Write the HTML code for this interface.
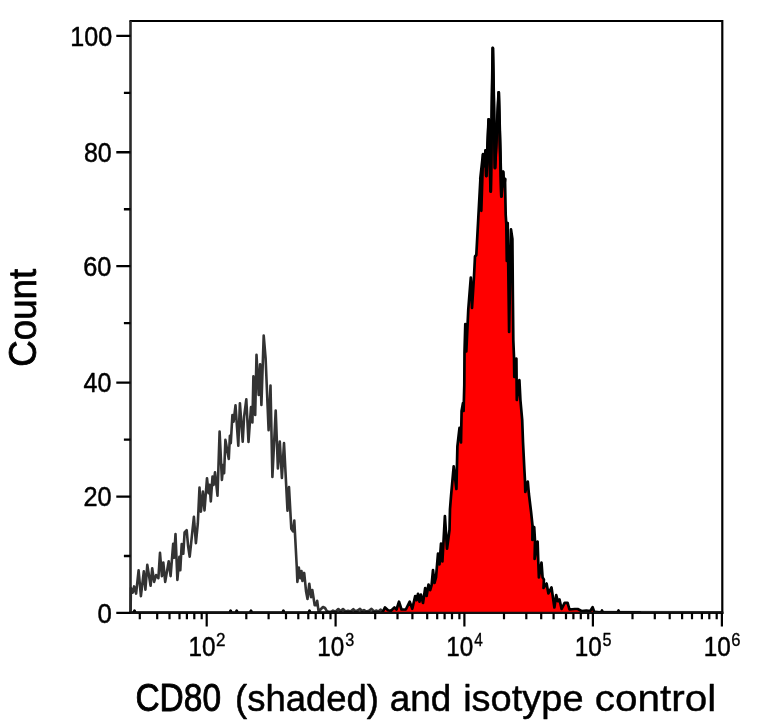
<!DOCTYPE html>
<html><head><meta charset="utf-8"><title>CD80 (shaded) and isotype control</title>
<style>
html,body{margin:0;padding:0;background:#fff;}
svg{display:block;will-change:transform}
text{font-family:"Liberation Sans",sans-serif;fill:#000}
</style></head><body>
<svg width="768" height="721" viewBox="0 0 768 721">
<rect width="768" height="721" fill="#fff"/>
<polyline points="130.6,612.0 130.9,588.0 132.8,592.6 134.1,586.4 136.1,593.6 138.6,570.3 140.9,596.1 143.8,571.3 145.4,589.7 147.3,564.9 150.6,585.8 152.2,568.3 154.1,581.9 156.1,575.1 158.4,578.1 160.0,552.8 161.9,576.1 163.3,562.5 165.2,581.9 168.7,561.2 170.6,576.1 173.2,543.7 174.1,557.7 175.5,534.0 177.4,580.0 179.4,556.7 180.3,570.3 181.7,544.1 183.3,553.8 184.6,532.4 186.7,530.1 188.1,546.0 189.7,556.7 193.9,516.9 195.9,543.1 197.8,523.7 199.5,487.6 200.9,511.7 202.9,491.6 204.5,510.4 207.0,478.2 208.6,493.2 209.6,484.9 210.8,501.5 212.5,476.5 213.6,484.9 215.0,472.4 217.5,495.7 219.6,431.6 221.9,479.9 223.3,464.9 224.1,473.2 225.4,439.9 228.8,459.0 229.9,435.8 230.8,443.3 232.4,415.0 233.6,421.6 235.5,405.4 238.3,445.6 239.9,403.2 242.7,441.6 244.1,416.6 246.3,399.3 248.5,442.0 251.0,407.0 252.4,422.5 253.4,376.3 255.2,415.0 256.5,354.8 258.7,395.0 260.1,364.4 261.4,405.0 263.7,335.5 265.6,358.0 268.6,430.2 270.5,385.6 272.4,477.0 275.7,410.6 277.9,468.5 279.8,441.5 281.9,478.0 284.0,443.0 287.5,510.7 289.0,487.0 291.3,528.7 293.0,531.4 294.3,520.6 296.7,565.7 297.4,581.9 298.8,567.5 300.3,578.3 301.5,571.0 302.4,581.0 304.2,572.9 306.0,590.9 307.5,599.0 309.3,583.7 311.0,597.2 312.3,590.0 314.7,605.3 316.0,605.3 317.2,600.8 318.6,611.6 321.0,609.0 323.0,607.0 325.0,608.0 326.5,610.5 328.5,611.8 331.0,611.8 333.0,610.6 335.5,611.6 338.3,609.0 340.5,611.2 343.0,609.0 345.5,611.4 348.0,610.8 350.5,611.6 353.3,609.2 355.5,611.3 357.5,610.6 360.0,608.9 362.0,611.2 364.0,610.0 366.5,611.5 369.0,610.8 371.5,608.8 374.0,611.4 376.5,610.6 378.5,611.4 380.5,609.6 383.0,611.5 386.0,610.5 389.0,611.6 392.0,610.2 395.0,611.5 400.0,610.8 405.0,611.4 410.0,610.6 415.0,612.0 722.0,612.3" fill="none" stroke="#333" stroke-width="2.6" stroke-linejoin="round" stroke-linecap="round"/>
<polygon points="131.0,612.5 133.6,612.5 134.5,610.6 135.4,612.5 229.7,612.5 230.6,610.6 231.5,612.5 235.8,612.5 236.7,610.6 237.6,612.5 250.1,612.5 251.0,610.6 251.9,612.5 282.5,612.5 283.4,610.6 284.3,612.5 308.6,612.5 309.5,610.6 310.4,612.5 382.5,612.5 385.0,607.4 388.0,610.3 390.8,611.0 394.4,607.4 396.5,609.5 399.0,601.7 401.5,609.5 405.8,609.5 409.7,601.7 412.3,608.8 415.2,596.0 416.6,600.2 418.0,593.8 419.5,601.7 420.9,594.5 423.0,603.0 425.2,588.0 426.6,596.0 428.5,584.5 430.2,590.2 431.6,585.2 433.0,570.0 434.5,583.0 436.0,577.3 438.0,553.7 439.5,564.4 441.0,543.6 442.4,561.5 444.9,516.0 447.0,548.7 449.5,530.0 450.0,509.0 451.0,496.4 453.7,466.3 456.4,489.0 457.4,446.5 459.5,427.8 461.0,442.4 461.6,411.0 463.0,403.0 463.6,411.0 464.3,385.0 464.5,353.0 465.3,324.0 466.3,351.5 468.3,309.0 470.8,277.5 472.0,308.0 474.0,276.5 475.0,256.5 476.3,255.0 478.3,218.0 480.4,179.0 481.3,210.8 483.1,154.3 484.3,166.0 485.6,150.6 486.3,176.0 488.7,119.4 490.7,191.5 492.8,48.1 495.0,168.0 498.7,92.4 501.4,196.5 503.1,171.8 504.0,186.0 505.0,179.0 505.7,215.0 506.3,224.0 506.8,261.0 507.7,223.0 509.1,332.0 511.0,229.4 512.4,239.0 512.8,290.0 513.3,340.0 514.0,357.0 514.3,377.0 516.4,358.5 516.8,400.0 519.4,380.0 520.4,400.0 522.2,420.0 523.0,442.0 524.4,470.0 525.0,481.0 525.3,492.0 527.8,481.5 528.9,494.0 531.1,512.2 532.5,525.5 532.4,540.0 534.2,527.0 535.0,541.0 534.6,559.0 537.6,541.5 538.3,562.0 538.9,577.5 541.5,562.5 542.6,577.5 543.9,579.4 543.5,588.0 546.6,583.5 548.4,593.5 551.5,587.4 554.4,607.5 556.2,595.2 557.8,601.2 559.5,599.5 561.6,609.0 564.6,602.8 567.6,602.8 569.5,609.5 574.8,609.0 577.7,609.0 581.5,611.0 586.4,610.5 590.3,611.0 592.6,607.2 594.2,611.8 601.0,612.5 602.0,610.5 603.0,612.5 617.5,612.5 618.5,610.5 619.5,612.5 640.0,612.5 640,612.9 131,612.9" fill="#ff0000" stroke="none"/>
<polyline points="131.0,612.5 133.6,612.5 134.5,610.6 135.4,612.5 229.7,612.5 230.6,610.6 231.5,612.5 235.8,612.5 236.7,610.6 237.6,612.5 250.1,612.5 251.0,610.6 251.9,612.5 282.5,612.5 283.4,610.6 284.3,612.5 308.6,612.5 309.5,610.6 310.4,612.5 382.5,612.5 385.0,607.4 388.0,610.3 390.8,611.0 394.4,607.4 396.5,609.5 399.0,601.7 401.5,609.5 405.8,609.5 409.7,601.7 412.3,608.8 415.2,596.0 416.6,600.2 418.0,593.8 419.5,601.7 420.9,594.5 423.0,603.0 425.2,588.0 426.6,596.0 428.5,584.5 430.2,590.2 431.6,585.2 433.0,570.0 434.5,583.0 436.0,577.3 438.0,553.7 439.5,564.4 441.0,543.6 442.4,561.5 444.9,516.0 447.0,548.7 449.5,530.0 450.0,509.0 451.0,496.4 453.7,466.3 456.4,489.0 457.4,446.5 459.5,427.8 461.0,442.4 461.6,411.0 463.0,403.0 463.6,411.0 464.3,385.0 464.5,353.0 465.3,324.0 466.3,351.5 468.3,309.0 470.8,277.5 472.0,308.0 474.0,276.5 475.0,256.5 476.3,255.0 478.3,218.0 480.4,179.0 481.3,210.8 483.1,154.3 484.3,166.0 485.6,150.6 486.3,176.0 488.7,119.4 490.7,191.5 492.8,48.1 495.0,168.0 498.7,92.4 501.4,196.5 503.1,171.8 504.0,186.0 505.0,179.0 505.7,215.0 506.3,224.0 506.8,261.0 507.7,223.0 509.1,332.0 511.0,229.4 512.4,239.0 512.8,290.0 513.3,340.0 514.0,357.0 514.3,377.0 516.4,358.5 516.8,400.0 519.4,380.0 520.4,400.0 522.2,420.0 523.0,442.0 524.4,470.0 525.0,481.0 525.3,492.0 527.8,481.5 528.9,494.0 531.1,512.2 532.5,525.5 532.4,540.0 534.2,527.0 535.0,541.0 534.6,559.0 537.6,541.5 538.3,562.0 538.9,577.5 541.5,562.5 542.6,577.5 543.9,579.4 543.5,588.0 546.6,583.5 548.4,593.5 551.5,587.4 554.4,607.5 556.2,595.2 557.8,601.2 559.5,599.5 561.6,609.0 564.6,602.8 567.6,602.8 569.5,609.5 574.8,609.0 577.7,609.0 581.5,611.0 586.4,610.5 590.3,611.0 592.6,607.2 594.2,611.8 601.0,612.5 602.0,610.5 603.0,612.5 617.5,612.5 618.5,610.5 619.5,612.5 640.0,612.5" fill="none" stroke="#000" stroke-width="2.7" stroke-linejoin="round" stroke-linecap="round"/>
<polyline points="480.4,179.0 483.1,154.3 484.3,166.0 485.6,150.6 486.3,176.0 488.7,119.4 490.7,191.5 492.8,48.1 495.0,168.0 498.7,92.4 501.4,196.5 503.1,171.8 504.0,186.0 505.0,179.0" fill="none" stroke="#000" stroke-width="3.0" stroke-linejoin="round" stroke-linecap="round"/>
<path d="M130.5,21.0 H722.3 V612.9" fill="none" stroke="#000" stroke-width="2.2" stroke-linecap="square"/>
<path d="M130.5,21.0 V614.0" fill="none" stroke="#2a2a2a" stroke-width="2.6"/>
<path d="M129.3,612.9 H723.4" fill="none" stroke="#111" stroke-width="2.2"/>
<path d="M130.5,612.9 h-14.2 M130.5,556.0 h-6.6 M130.5,496.6 h-14.2 M130.5,439.6 h-6.6 M130.5,382.6 h-14.2 M130.5,323.1 h-6.6 M130.5,266.1 h-14.2 M130.5,209.2 h-6.6 M130.5,152.2 h-14.2 M130.5,92.9 h-6.6 M130.5,35.9 h-14.2" stroke="#000" stroke-width="2.35" fill="none"/>
<path d="M139.8,612.9 v6.3 M157.2,612.9 v6.3 M169.5,612.9 v6.3 M179.5,612.9 v6.3 M186.9,612.9 v6.3 M194.3,612.9 v6.3 M201.7,612.9 v6.3 M246.3,612.9 v6.3 M268.6,612.9 v6.3 M286.0,612.9 v6.3 M298.3,612.9 v6.3 M308.3,612.9 v6.3 M315.7,612.9 v6.3 M323.1,612.9 v6.3 M330.5,612.9 v6.3 M375.2,612.9 v6.3 M397.5,612.9 v6.3 M412.4,612.9 v6.3 M427.2,612.9 v6.3 M437.2,612.9 v6.3 M444.6,612.9 v6.3 M452.0,612.9 v6.3 M459.4,612.9 v6.3 M504.0,612.9 v6.3 M526.3,612.9 v6.3 M541.2,612.9 v6.3 M553.6,612.9 v6.3 M566.0,612.9 v6.3 M573.4,612.9 v6.3 M580.8,612.9 v6.3 M588.2,612.9 v6.3 M632.5,612.9 v6.3 M654.8,612.9 v6.3 M669.7,612.9 v6.3 M682.1,612.9 v6.3 M692.0,612.9 v6.3 M701.9,612.9 v6.3 M709.3,612.9 v6.3 M716.7,612.9 v6.3 M206.7,612.9 v13.7 M335.6,612.9 v13.7 M464.4,612.9 v13.7 M592.9,612.9 v13.7 M721.9,612.9 v13.7" stroke="#000" stroke-width="2.2" fill="none"/>
<text transform="translate(135.41,711.10) scale(0.8588,1)" font-size="39" stroke="#000" stroke-width="0.9" stroke-linejoin="round">CD80</text>
<text transform="translate(235.01,711.10) scale(0.9968,1)" font-size="36.6" stroke="#000" stroke-width="0.5" stroke-linejoin="round">(shaded)</text>
<text transform="translate(389.84,711.10) scale(1.0061,1)" font-size="36.6" stroke="#000" stroke-width="0.5" stroke-linejoin="round">and</text>
<text transform="translate(463.16,711.10) scale(1.0379,1)" font-size="36.6" stroke="#000" stroke-width="0.45" stroke-linejoin="round">isotype</text>
<text transform="translate(594.82,711.10) scale(1.1059,1)" font-size="36.6" stroke="#000" stroke-width="0.4" stroke-linejoin="round">control</text>
<text transform="translate(70.21,45.70) scale(0.8971,1)" font-size="28" stroke="#000" stroke-width="0.5" stroke-linejoin="round">100</text>
<text transform="translate(83.91,161.95) scale(0.8923,1)" font-size="28" stroke="#000" stroke-width="0.5" stroke-linejoin="round">80</text>
<text transform="translate(83.27,275.95) scale(0.9034,1)" font-size="28" stroke="#000" stroke-width="0.5" stroke-linejoin="round">60</text>
<text transform="translate(83.55,392.40) scale(0.8941,1)" font-size="28" stroke="#000" stroke-width="0.5" stroke-linejoin="round">40</text>
<text transform="translate(83.47,506.40) scale(0.9034,1)" font-size="28" stroke="#000" stroke-width="0.5" stroke-linejoin="round">20</text>
<text transform="translate(97.51,622.70) scale(0.9214,1)" font-size="28" stroke="#000" stroke-width="0.5" stroke-linejoin="round">0</text>
<text transform="translate(188.47,656.40) scale(0.8673,1)" font-size="28" stroke="#000" stroke-width="0.5" stroke-linejoin="round">10</text>
<text transform="translate(216.12,646.30) scale(0.9000,1)" font-size="19" stroke="#000" stroke-width="0.35" stroke-linejoin="round">2</text>
<text transform="translate(317.37,656.40) scale(0.8673,1)" font-size="28" stroke="#000" stroke-width="0.5" stroke-linejoin="round">10</text>
<text transform="translate(345.27,646.30) scale(0.8526,1)" font-size="19" stroke="#000" stroke-width="0.35" stroke-linejoin="round">3</text>
<text transform="translate(446.17,656.40) scale(0.8673,1)" font-size="28" stroke="#000" stroke-width="0.5" stroke-linejoin="round">10</text>
<text transform="translate(474.30,646.30) scale(0.8100,1)" font-size="19" stroke="#000" stroke-width="0.35" stroke-linejoin="round">4</text>
<text transform="translate(574.67,656.40) scale(0.8673,1)" font-size="28" stroke="#000" stroke-width="0.5" stroke-linejoin="round">10</text>
<text transform="translate(602.57,646.30) scale(0.8526,1)" font-size="19" stroke="#000" stroke-width="0.35" stroke-linejoin="round">5</text>
<text transform="translate(703.67,656.40) scale(0.8673,1)" font-size="28" stroke="#000" stroke-width="0.5" stroke-linejoin="round">10</text>
<text transform="translate(731.34,646.30) scale(0.8757,1)" font-size="19" stroke="#000" stroke-width="0.35" stroke-linejoin="round">6</text>
<text transform="translate(35.7,366.71) rotate(-90) scale(0.9401,1)" font-size="39" stroke="#000" stroke-width="0.8" stroke-linejoin="round">Count</text>
</svg></body></html>
